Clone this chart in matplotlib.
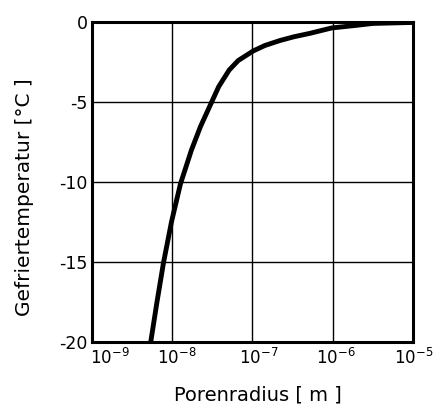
import matplotlib
matplotlib.use("Agg")
import matplotlib.pyplot as plt
import matplotlib.transforms as mtransforms

plt.rcParams['axes.unicode_minus'] = False
plt.rcParams['font.family'] = ['DejaVu Sans']

radius = [5.40e-9, 6.46e-9, 7.78e-9, 9.79e-9, 1.267e-8, 1.738e-8, 2.25e-8,
          3.08e-8, 3.80e-8, 5.14e-8, 6.65e-8, 1.023e-7, 1.43e-7, 2.20e-7,
          3.29e-7, 5.21e-7, 9.70e-7, 1.89e-6, 3.18e-6, 1.0e-5]
temperature = [-20, -17.5, -15.06, -12.5, -10.12, -8.0, -6.54,
               -5.04, -4.04, -3.0, -2.41, -1.81, -1.47, -1.16,
               -0.925, -0.71, -0.375, -0.22, -0.09, -0.03]

xticks = [1e-9, 1e-8, 1e-7, 1e-6, 1e-5]
xticklabels = [r'$10^{-9}$', r'$10^{-8}$', r'$10^{-7}$', r'$10^{-6}$', r'$10^{-5}$']
yticks = [0, -5, -10, -15, -20]
yticklabels = ['0', '-5', '-10', '-15', '-20']

fig = plt.figure(figsize=(4.36, 4.07), dpi=100)
ax = fig.add_axes([0.211, 0.160, 0.736, 0.786])
ax.set_xscale('log')
ax.set_xlim(1e-9, 1e-5)
ax.set_ylim(-20, 0)

ax.plot(radius, temperature, color='black', lw=3.5, solid_capstyle='butt',
        solid_joinstyle='round', zorder=3)

ax.set_xticks(xticks)
ax.set_xticklabels(xticklabels, fontsize=12)
ax.set_yticks(yticks)
ax.set_yticklabels(yticklabels, fontsize=12.5)
ax.minorticks_off()
ax.tick_params(length=0)
ax.tick_params(axis='x', pad=4)
ax.tick_params(axis='y', pad=3)

# shift x tick labels slightly right as in the reference
shifts_px = [18, 5, 6, 3, 1]
for lab, dx in zip(ax.get_xticklabels(), shifts_px):
    lab.set_transform(lab.get_transform() +
                      mtransforms.ScaledTranslation(dx / 100, 0, fig.dpi_scale_trans))

ax.grid(True, color='black', lw=1.0)
for s in ax.spines.values():
    s.set_linewidth(2.2)
    s.set_zorder(4)

ax.set_xlabel('Porenradius [ m ]', fontsize=14)
ax.set_ylabel('Gefriertemperatur [°C ]', fontsize=14.5)
ax.xaxis.set_label_coords(0.516, -0.166)
ax.xaxis.label.set_va('center')
ax.yaxis.set_label_coords(-0.209, 0.453)
ax.yaxis.label.set_va('center')

fig.savefig('out.png', dpi=100)
